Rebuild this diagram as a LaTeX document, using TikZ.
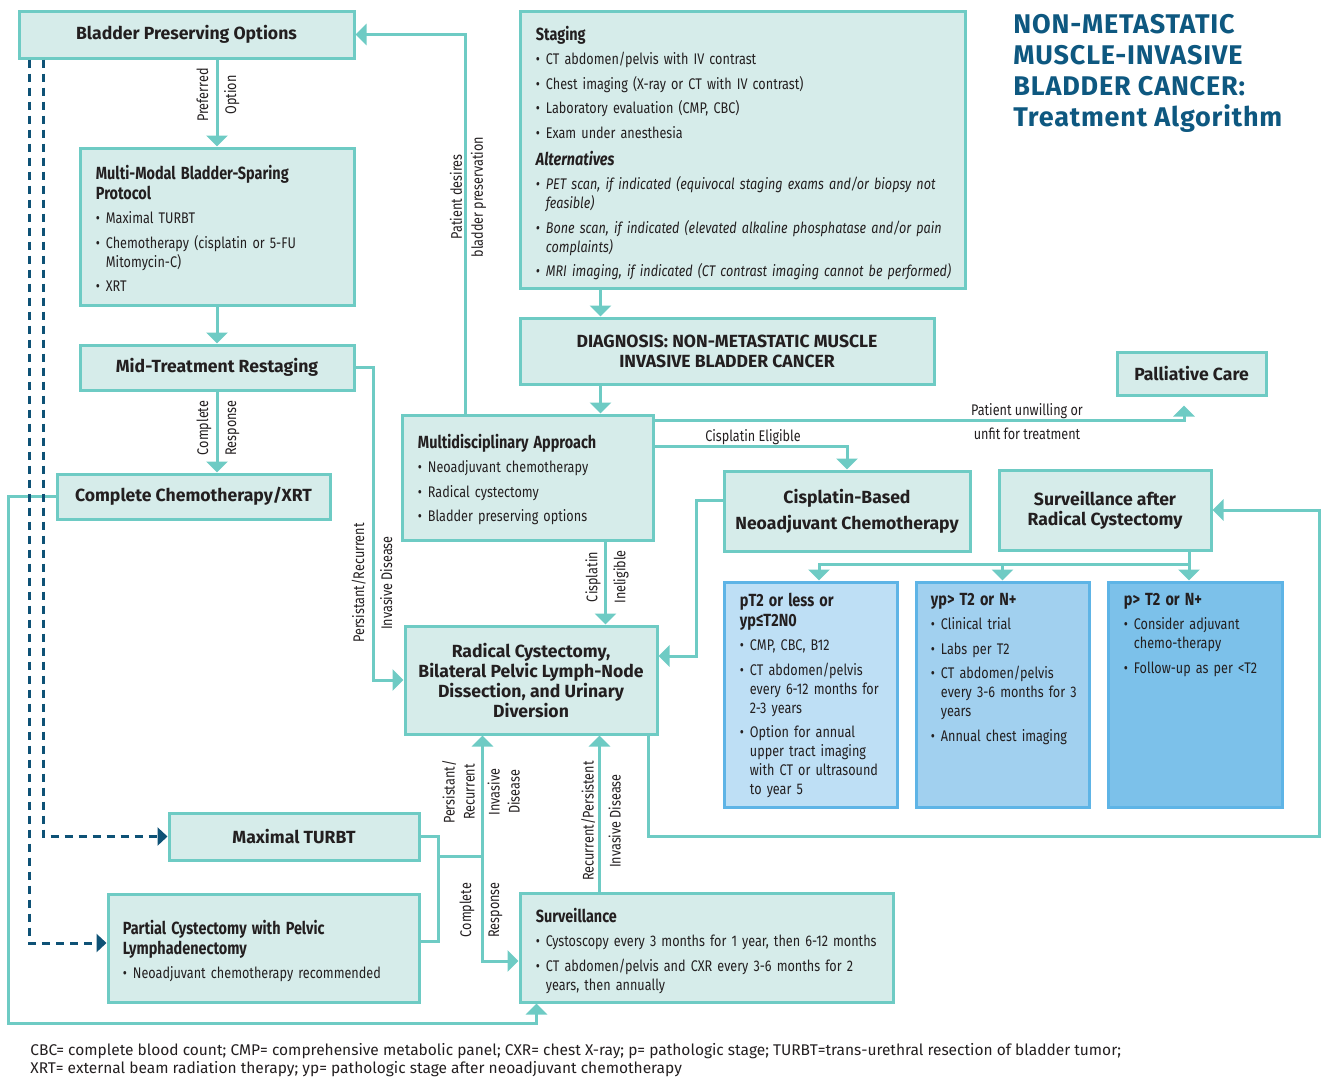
\documentclass[tikz,border=0pt]{standalone}
\usepackage{fontspec}
\setmainfont{Fira Sans}
\newfontfamily\condfont[FakeStretch=0.82]{Fira Sans}
\usetikzlibrary{arrows.meta,calc,positioning}

\definecolor{tealline}{RGB}{110,203,196}
\definecolor{tealfill}{RGB}{214,236,234}
\definecolor{inktext}{RGB}{35,31,32}
\definecolor{navydash}{RGB}{14,82,118}
\definecolor{titleblue}{RGB}{14,88,128}
\definecolor{blueline}{RGB}{94,180,230}
\definecolor{blueA}{RGB}{190,223,245}
\definecolor{blueB}{RGB}{161,208,239}
\definecolor{blueC}{RGB}{124,193,234}

\newcommand{\bodytext}{\condfont\fontsize{7.7}{9.5}\selectfont}
\newcommand{\headtext}{\fontsize{8.8}{10}\selectfont\bfseries}
\newcommand{\hd}[1]{{\headtext #1\par}}
\newcommand{\bul}[1]{\par\vspace{2.75pt}{\leftskip=5pt\noindent\hskip-5pt\makebox[5pt][l]{\textbullet}#1\par}}

\tikzset{
  box/.style={draw=tealline, fill=tealfill, line width=1.5pt, inner sep=0pt, text=inktext, font=\headtext, align=center},
  bluebox/.style={draw=blueline, line width=1.5pt, inner sep=0pt},
  txt/.style={anchor=north west, inner sep=0pt, text width=#1, align=left, text=inktext, font=\bodytext},
  conn/.style={draw=tealline, line width=1.5pt, -{Triangle[width=10.5pt,length=5.5pt]}},
  link/.style={draw=tealline, line width=1.5pt},
  dconn/.style={draw=navydash, line width=1.5pt, dash pattern=on 4pt off 3pt, -{Triangle[width=9pt,length=5pt]}},
  lbl/.style={rotate=90, align=center, inner sep=0pt, text=inktext, font=\bodytext},
  hlbl/.style={align=center, inner sep=0pt, text=inktext, font=\bodytext},
}

\begin{document}
\begin{tikzpicture}[x=0.5pt,y=-0.5pt]
  \useasboundingbox (0,0) rectangle (1325,1076);

  % left column
  \node[box, minimum width=167.5pt, minimum height=23.5pt] (bpo) at (186.5,34.5) {Bladder Preserving Options};
  \node[box, minimum width=137pt, minimum height=78.5pt] (mmbs) at (217,226.5) {};
  \node[txt=200pt] (mmbsT) at ([shift={(8.5pt,-9pt)}]mmbs.north west)
    {\hd{Multi-Modal Bladder-Sparing\\Protocol}\bul{Maximal TURBT}\bul{Chemotherapy (cisplatin or 5-FU\newline Mitomycin-C)}\bul{XRT}};
  \node[box, minimum width=137pt, minimum height=22.5pt] (mtr) at (217,367.5) {Mid-Treatment Restaging};
  \node[box, minimum width=136.5pt, minimum height=22.5pt] (ccx) at (193.5,496.5) {Complete Chemotherapy/XRT};

  % staging and diagnosis
  \node[box, minimum width=222.5pt, minimum height=138.5pt] (stg) at (742.5,149.5) {};
  \node[txt=240pt] (stgT) at ([shift={(8.5pt,-8pt)}]stg.north west)
    {\hd{Staging}\bul{CT abdomen/pelvis with IV contrast}\bul{Chest imaging (X-ray or CT with IV contrast)}%
     \bul{Laboratory evaluation (CMP, CBC)}\bul{Exam under anesthesia}\par\vspace{3.5pt}%
     \hd{\itshape Alternatives}\itshape
     \bul{PET scan, if indicated (equivocal staging exams and/or biopsy not\newline feasible)}%
     \bul{Bone scan, if indicated (elevated alkaline phosphatase and/or pain\newline complaints)}%
     \bul{MRI imaging, if indicated (CT contrast imaging cannot be performed)}};
  \node[box, minimum width=207pt, minimum height=33pt] (dx) at (727,351) {DIAGNOSIS: NON-METASTATIC MUSCLE\\INVASIVE BLADDER CANCER};
  \node[box, minimum width=74.5pt, minimum height=21.5pt] (pal) at (1191.5,373.5) {Palliative Care};

  % title
  \node[anchor=north west, align=left, inner sep=0pt, text=titleblue, font=\fontsize{13.5}{15.5}\selectfont\bfseries\addfontfeatures{LetterSpace=3}] (title) at (1013,14)
    {NON-METASTATIC\\MUSCLE-INVASIVE\\BLADDER CANCER:\\Treatment Algorithm};

  % middle
  \node[box, minimum width=125.5pt, minimum height=62.5pt] (multi) at (527.5,477.5) {};
  \node[txt=150pt] (multiT) at ([shift={(8.5pt,-10pt)}]multi.north west)
    {\hd{Multidisciplinary Approach}\bul{Neoadjuvant chemotherapy}\bul{Radical cystectomy}\bul{Bladder preserving options}};
  \node[box, minimum width=123pt, minimum height=40pt] (cbn) at (847,511) {Cisplatin-Based\\[3pt]Neoadjuvant Chemotherapy};
  \node[box, minimum width=106pt, minimum height=40pt] (sarc) at (1105,510) {Surveillance after\\Radical Cystectomy};
  \node[box, minimum width=126pt, minimum height=54pt] (rc) at (531,680) {Radical Cystectomy,\\Bilateral Pelvic Lymph-Node\\Dissection, and Urinary\\Diversion};

  % follow-up boxes
  \node[bluebox, fill=blueA, minimum width=86.5pt, minimum height=112.5pt] (pt2) at (810.5,694.5) {};
  \node[txt=100pt] (pt2T) at ([shift={(8.5pt,-6pt)}]pt2.north west)
    {\hd{pT2 or less or\\yp≤T2N0}\bul{CMP, CBC, B12}\bul{CT abdomen/pelvis\newline every 6-12 months for\newline 2-3 years}%
     \bul{Option for annual\newline upper tract imaging\newline with CT or ultrasound\newline to year 5}};
  \node[bluebox, fill=blueB, minimum width=86.5pt, minimum height=112.5pt] (yp) at (1002.5,694.5) {};
  \node[txt=100pt] (ypT) at ([shift={(8pt,-6pt)}]yp.north west)
    {\hd{yp> T2 or N+}\bul{Clinical trial}\bul{Labs per T2}\bul{CT abdomen/pelvis\newline every 3-6 months for 3\newline years}\bul{Annual chest imaging}};
  \node[bluebox, fill=blueC, minimum width=87pt, minimum height=112.5pt] (pp) at (1195,694.5) {};
  \node[txt=100pt] (ppT) at ([shift={(8.5pt,-6pt)}]pp.north west)
    {\hd{p> T2 or N+}\bul{Consider adjuvant\newline chemo-therapy}\bul{Follow-up as per <T2}};

  % bottom
  \node[box, minimum width=125pt, minimum height=23.5pt] (mt) at (294,836.5) {Maximal TURBT};
  \node[box, minimum width=155.5pt, minimum height=54pt] (pc) at (263.5,948) {};
  \node[txt=180pt] (pcT) at ([shift={(8pt,-13.5pt)}]pc.north west)
    {\hd{Partial Cystectomy with Pelvic\\Lymphadenectomy}\bul{Neoadjuvant chemotherapy recommended}};
  \node[box, minimum width=186.5pt, minimum height=54.5pt] (sv) at (706.5,947.5) {};
  \node[txt=200pt] (svT) at ([shift={(8.5pt,-8pt)}]sv.north west)
    {\hd{Surveillance}\bul{Cystoscopy every 3 months for 1 year, then 6-12 months}%
     \bul{CT abdomen/pelvis and CXR every 3-6 months for 2\newline years, then annually}};

  % footnote
  \node[anchor=north west, align=left, inner sep=0pt, text=inktext, font=\fontsize{7.75}{9}\selectfont] (note) at (30,1043)
    {CBC= complete blood count; CMP= comprehensive metabolic panel; CXR= chest X-ray; p= pathologic stage; TURBT=trans-urethral resection of bladder tumor;\\
     XRT= external beam radiation therapy; yp= pathologic stage after neoadjuvant chemotherapy};

  % connectors, left column
  \draw[conn] (bpo.south -| mmbs.north) -- (mmbs.north);
  \draw[conn] (mmbs.south) -- (mtr.north);
  \draw[conn] (mtr.south) -- (mtr.south |- ccx.north);
  \draw[conn] (mtr.east) -- ++(18,0) |- (rc.west);
  \draw[conn] (ccx.west) -- ++(-47,0) -- ++(0,526.5) -| ([xshift=9pt]sv.south west);
  \draw[dconn] ([xshift=6pt]bpo.south west) |- ([yshift=2.5pt]pc.west);
  \draw[dconn] ([xshift=13pt]bpo.south west) |- (mt.west);

  % connectors, middle
  \draw[conn] ([xshift=32.5pt]multi.north west) |- (bpo.east);
  \coordinate (dxin) at ([xshift=41pt]dx.north west);
  \coordinate (dxout) at ([xshift=41pt]dx.south west);
  \coordinate (mdout) at ([xshift=102.5pt]multi.south west);
  \draw[conn] (dxin |- stg.south) -- (dxin);
  \draw[conn] (dxout) -- (dxout |- multi.north);
  \draw[conn] (mdout) -- (mdout |- rc.north);
  \draw[conn, shorten >=4.5pt] ([yshift=-3.5pt]multi.north east) -| ([xshift=-3.75pt]pal.south);
  \draw[conn] ([yshift=-16.5pt]multi.north east) -| (cbn.north);
  \draw[conn] ([yshift=5.5pt]cbn.west) -- ++(-26,0) |- ([yshift=12pt]rc.east);

  % connectors, right
  \draw[conn] ([xshift=-5pt]rc.south east) -- ++(0,101) -- ++(671,0) |- (sarc.east);
  \coordinate (fork) at (1189,564);
  \draw[link] (sarc.south -| fork) -- (fork);
  \draw[conn] (fork) -- (fork |- pp.north);
  \draw[conn] (fork) -| ([xshift=4.25pt]pt2.north);
  \draw[conn] (fork -| yp.north) -- (yp.north);

  % connectors, bottom
  \coordinate (jl) at ($(mt.east)+(18,20)$);
  \coordinate (jr) at ($(jl)+(44,0)$);
  \coordinate (svout) at ([xshift=40.5pt]sv.north west);
  \draw[link] (mt.east) -- ++(18,0) |- ([yshift=3.5pt]pc.east);
  \draw[link] (jl) -- (jr);
  \draw[conn] (jr) -- (jr |- rc.south);
  \draw[conn] (jr) |- ([yshift=-6.75pt]sv.west);
  \draw[conn] (svout) -- (svout |- rc.south);

  % labels
  \node[lbl] (lPref) at (218,95) {Preferred\\[4.5pt]Option};
  \node[lbl] (lCR1) at (218,428) {Complete\\[4.5pt]Response};
  \node[lbl] (lPR1) at (372,583) {Persistant/Recurrent\\[4.5pt]Invasive Disease};
  \node[lbl] (lPat) at (468,197) {Patient desires\\[1pt]bladder preservation};
  \node[lbl] (lCis) at (607,577) {Cisplatin\\[4.5pt]Ineligible};
  \node[lbl] (lPR2) at (481,792) {Persistant/\\[0.5pt]Recurrent\\[3pt]Invasive\\[0.5pt]Disease};
  \node[lbl] (lCR2) at (481,910) {Complete\\[4.5pt]Response};
  \node[lbl] (lRP) at (601,821) {Recurrent/Persistent\\[4pt]Invasive Disease};
  \node[hlbl] (lUnfit) at (1027,422) {Patient unwilling or\\[2.5pt]unfit for treatment};
  \node[hlbl] (lElig) at (753,437) {Cisplatin Eligible};
\end{tikzpicture}
\end{document}
